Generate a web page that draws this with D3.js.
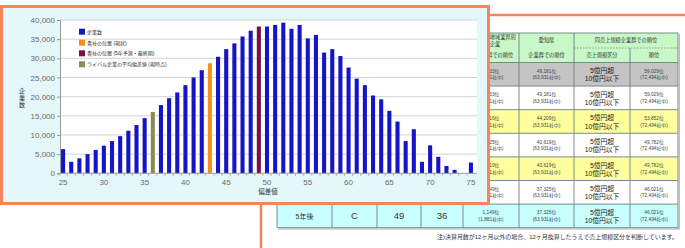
<!DOCTYPE html>
<html><head><meta charset="utf-8">
<script src="https://cdn.jsdelivr.net/npm/d3@7"></script>
<style>
body{margin:0;background:#fff}
svg{display:block}
text{font-family:"Liberation Sans","Noto Sans CJK JP",sans-serif}
</style>
</head><body>
<svg id="c" width="685" height="248"></svg>
<script>
// ---------- chart data ----------
const categories = [25,26,27,28,29,30,31,32,33,34,35,36,37,38,39,40,41,42,43,44,45,46,47,48,49,50,
  51,52,53,54,55,56,57,58,59,60,61,62,63,64,65,66,67,68,69,70,71,72,73,74,75];
const companyCounts = [6300,3000,3900,5000,6100,7200,8400,9700,11100,12600,14400,16000,17800,19600,21100,
  23000,25000,26900,28700,30400,32400,33900,35700,37200,38300,38300,38700,39300,37700,38700,
  35200,36100,31500,32400,30600,27600,24700,23000,20300,19300,16300,13500,8400,11500,3000,
  7300,4300,1900,900,0,2800];
const currentPosition = 43;   // 貴社の位置(現状)
const forecastPosition = 49;  // 貴社の位置(5年予測・最終期)
const rivalAverage = 36;      // ライバル企業の平均偏差値(現時点)
const yTicks = [0,5000,10000,15000,20000,25000,30000,35000,40000];
const xTicks = [25,30,35,40,45,50,55,60,65,70,75];
const legendLabels = ["企業数","貴社の位置 (現状)","貴社の位置 (5年予測・最終期)","ライバル企業の平均偏差値 (現時点)"];
const legendColors = ["#1414c8","#f0901e","#7a1042","#8c8a5c"];
const xTitle = "偏差値";
const yTitle = ["企","業","数"];

// ---------- table data ----------
const periods = ["前期","現状","1年後","2年後","3年後","4年後","5年後"];
const grades = ["D","D","D","C","C","C","C"];
const deviations = [43,43,45,47,47,49,49];
const rivalAvgs = [36,36,36,36,36,36,36];
const regionRanks = ["1,133位","1,133位","1,216位","1,225位","1,219位","1,149位","1,149位"];
const regionTotal = "(1,881社中)";
const prefRanks = ["49,181位","49,181位","44,209位","40,619位","40,619位","37,325位","37,325位"];
const prefTotal = "(63,931社中)";
const salesClassA = "5億円超", salesClassB = "10億円以下";
const sizeRanks = ["59,029位","59,029位","53,852位","49,782位","49,782位","46,021位","46,021位"];
const sizeTotal = "(72,494社中)";
const rowFills = ["#c4c4c4","#ffffff","#ffff9e","#ffffff","#ffff9e","#ffffff","#c8ffff"];
const note = "注)決算月数が12ヶ月以外の場合、12ヶ月換算したうえで売上規模区分を判断しています。";

const svg = d3.select("#c");
const ORANGE = "#f7845e";

// ---------- background table panel ----------
svg.append("rect").attr("x",261).attr("y",15).attr("width",480).attr("height",260)
  .attr("fill","#fff").attr("stroke",ORANGE).attr("stroke-width",2.5);

const colX = [277,332,377,421,463,519,574,630,678];
const tTop = 33, tMid = 48, tHead = 62.5, rowH = 23.6;
const t = svg.append("g");
const LINE = "#6d7f7f";
// header
t.append("rect").attr("x",colX[0]).attr("y",tTop).attr("width",colX[8]-colX[0]).attr("height",tHead-tTop)
  .attr("fill","#c8f7c8");
// rows
const ry = i => tHead + i*rowH;
t.selectAll("rect.row").data(rowFills).join("rect").attr("class","row")
  .attr("x",colX[0]).attr("y",(d,i)=>ry(i)).attr("width",colX[8]-colX[0]).attr("height",rowH).attr("fill",d=>d);
// horizontal lines
d3.range(periods.length+1).forEach(i=>{
  t.append("line").attr("x1",colX[0]).attr("x2",colX[8]).attr("y1",ry(i)).attr("y2",ry(i))
    .attr("stroke",LINE).attr("stroke-width",0.9);
});
t.append("line").attr("x1",colX[0]).attr("x2",colX[8]).attr("y1",tTop).attr("y2",tTop).attr("stroke",LINE).attr("stroke-width",0.9);
t.append("line").attr("x1",colX[6]).attr("x2",colX[8]).attr("y1",tMid).attr("y2",tMid)
  .attr("stroke",LINE).attr("stroke-width",0.7).attr("stroke-dasharray","1.5,1.5");
// vertical lines
colX.forEach((cx,j)=>{
  t.append("line").attr("x1",cx).attr("x2",cx).attr("y1",j===7?tMid:tTop).attr("y2",ry(periods.length))
    .attr("stroke",LINE).attr("stroke-width",0.9);
});
// shadow
t.append("line").attr("x1",colX[8]+1.2).attr("x2",colX[8]+1.2).attr("y1",tTop+1).attr("y2",ry(periods.length)+1.2)
  .attr("stroke","#b8b8b8").attr("stroke-width",1.4);
t.append("line").attr("x1",colX[0]+1).attr("x2",colX[8]+1.9).attr("y1",ry(periods.length)+1.2).attr("y2",ry(periods.length)+1.2)
  .attr("stroke","#b8b8b8").attr("stroke-width",1.4);

const cxm = j => (colX[j]+colX[j+1])/2;
function txt(x,y,s,size,fill,extra){
  const e = t.append("text").attr("x",x).attr("y",y).attr("text-anchor","middle")
    .attr("font-size",size).attr("fill",fill||"#333").text(s);
  return e;
}
// header texts
const hs = 5.2;
txt(cxm(0),50,"年度",hs); txt(cxm(1),50,"評価",hs); txt(cxm(2),50,"偏差値",hs); txt(cxm(3),50,"ライバル",hs);
txt(cxm(4)+4,39,"同業種地域業界別",hs); txt(cxm(4)+4,45.5,"企業",hs); txt(cxm(4)+4,57,"企業群での順位",hs);
txt(cxm(5),42,"愛知県",hs); txt(cxm(5),57,"企業群での順位",hs);
txt((colX[6]+colX[8])/2,42,"同売上規模企業群での順位",hs);
txt(cxm(6),57,"売上規模区分",hs); txt(cxm(7),57,"順位",hs);
// row texts
periods.forEach((p,i)=>{
  const c = ry(i)+rowH/2;
  txt(cxm(0),c+3,p,7,"#333");
  txt(cxm(1),c+3.5,grades[i],9.5,"#333");
  txt(cxm(2),c+3.5,deviations[i],9.5,"#333");
  txt(cxm(3),c+3.5,rivalAvgs[i],9.5,"#333");
  txt(cxm(4),c-1.5,regionRanks[i],4.8,"#444");
  txt(cxm(4),c+5,regionTotal,4.8,"#444");
  txt(cxm(5),c-1.5,prefRanks[i],4.8,"#444");
  txt(cxm(5),c+5,prefTotal,4.8,"#444");
  txt(cxm(6),c-1.2,salesClassA,6.8,"#222");
  txt(cxm(6),c+7,salesClassB,6.8,"#222");
  txt(cxm(7),c-1.5,sizeRanks[i],4.8,"#444");
  txt(cxm(7),c+5,sizeTotal,4.8,"#444");
});
t.append("text").attr("x",678).attr("y",239).attr("text-anchor","end").attr("font-size",5.6)
  .attr("fill","#333").attr("textLength",241).attr("lengthAdjust","spacingAndGlyphs").text(note);

// ---------- chart panel ----------
svg.append("rect").attr("x",1.5).attr("y",6.5).attr("width",487).attr("height",197)
  .attr("fill","#e4f8fa").attr("stroke",ORANGE).attr("stroke-width",3);

const x = d3.scaleBand().domain(categories).range([59,475]).paddingInner(0.5).paddingOuter(0.25);
const y = d3.scaleLinear().domain([0,40000]).range([173.3,20]);
const plotL = 60, plotR = 477;
const g = svg.append("g");
g.append("rect").attr("x",plotL).attr("y",y(40000)).attr("width",plotR-plotL).attr("height",y(0)-y(40000))
  .attr("fill","#ffffff");
// gridlines
g.selectAll("line.grid").data(yTicks.filter(d=>d>0)).join("line").attr("class","grid")
  .attr("x1",plotL).attr("x2",plotR).attr("y1",d=>y(d)).attr("y2",d=>y(d))
  .attr("stroke","#d4d4d4").attr("stroke-width",1);
// y axis
const ya = g.append("g").attr("transform",`translate(${plotL},0)`)
  .call(d3.axisLeft(y).tickValues(yTicks).tickFormat(d3.format(",")).tickSize(3).tickPadding(2));
ya.select(".domain").attr("stroke","#9a9a9a");
ya.selectAll(".tick line").attr("stroke","#9a9a9a");
ya.selectAll("text").attr("font-size",8).attr("fill","#6a6a6a").attr("font-family","Liberation Sans");
// bars
const colorOf = d => d===currentPosition ? legendColors[1] : d===forecastPosition ? legendColors[2] : d===rivalAverage ? legendColors[3] : legendColors[0];
g.selectAll("rect.bar").data(categories.map((c,i)=>({c,v:companyCounts[i]}))).join("rect").attr("class","bar")
  .attr("x",d=>x(d.c)).attr("width",x.bandwidth()).attr("y",d=>y(d.v)).attr("height",d=>y(0)-y(d.v))
  .attr("fill",d=>colorOf(d.c));
// x axis
const xa = g.append("g").attr("transform",`translate(0,${y(0)})`)
  .call(d3.axisBottom(x).tickValues(xTicks).tickSize(0).tickPadding(6));
xa.select(".domain").remove();
xa.selectAll("text").attr("font-size",8).attr("fill","#6a6a6a").attr("font-family","Liberation Sans");
g.append("line").attr("x1",plotL).attr("x2",plotR).attr("y1",y(0)).attr("y2",y(0)).attr("stroke","#9a9a9a");
g.selectAll("line.xt").data(categories).join("line").attr("class","xt")
  .attr("x1",d=>x(d)-x.step()*0.25).attr("x2",d=>x(d)-x.step()*0.25)
  .attr("y1",y(0)).attr("y2",y(0)+2.5).attr("stroke","#aaaaaa");
// titles
g.append("text").attr("x",268).attr("y",194).attr("text-anchor","middle").attr("font-size",6.5)
  .attr("fill","#333").text(xTitle);
g.selectAll("text.yt").data(yTitle).join("text").attr("class","yt")
  .attr("x",22).attr("y",(d,i)=>93+i*6.8).attr("text-anchor","middle").attr("font-size",6)
  .attr("fill","#333").text(d=>d);
// legend
const legY = [31.7,42.7,53.3,64.3];
const lg = g.selectAll("g.leg").data(legendLabels).join("g").attr("class","leg")
  .attr("transform",(d,i)=>`translate(79,${legY[i]})`);
lg.append("rect").attr("x",0).attr("y",-3).attr("width",6).attr("height",6).attr("fill",(d,i)=>legendColors[i]);
lg.append("text").attr("x",8).attr("y",2).attr("font-size",5).attr("fill","#333").text(d=>d);
</script>
</body></html>
